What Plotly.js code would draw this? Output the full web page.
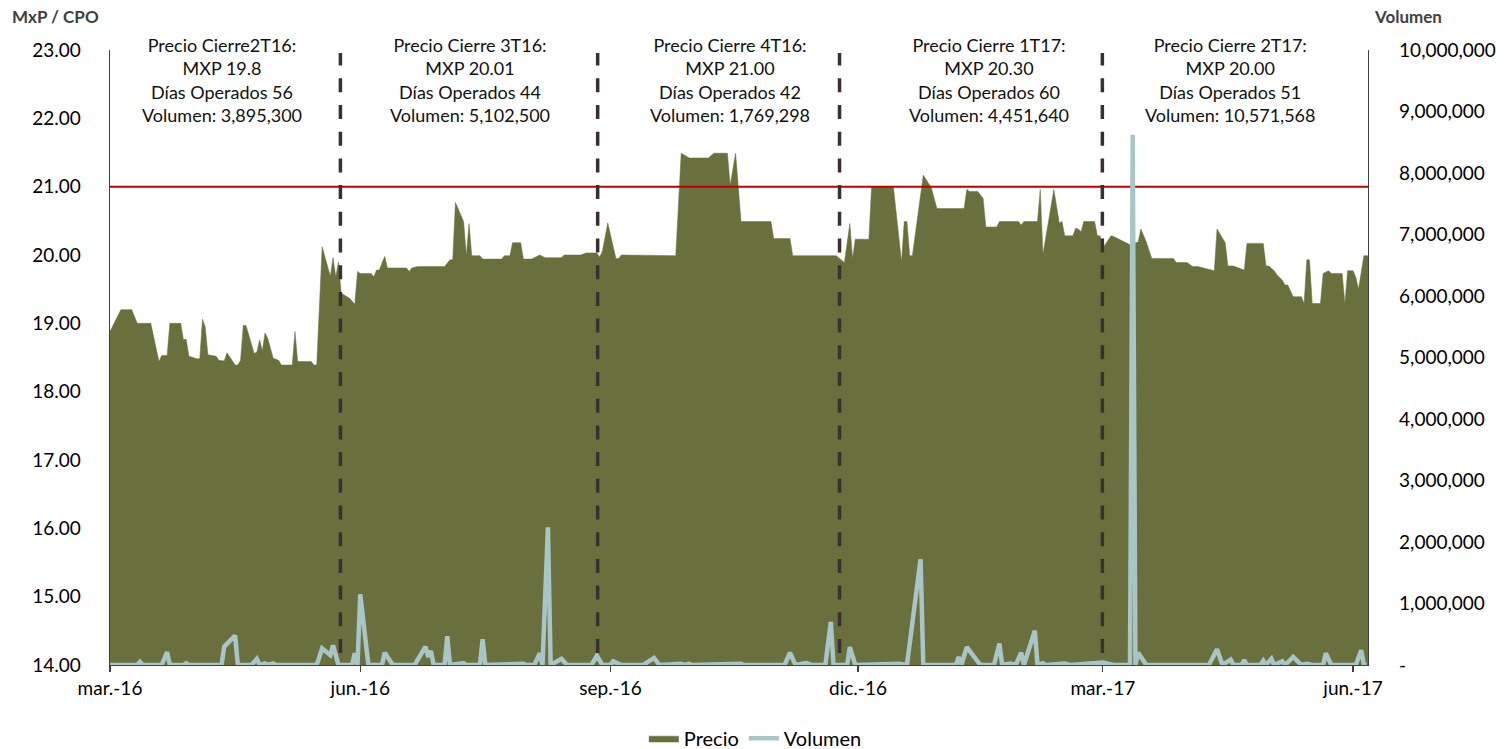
<!DOCTYPE html>
<html>
<head>
<meta charset="utf-8">
<script src="https://cdn.plot.ly/plotly-3.0.1.min.js"></script>
<style>
html,body{margin:0;padding:0;background:#fff;}
#chart{width:1510px;height:749px;}
</style>
</head>
<body>
<div id="chart"></div>
<script>
// ---------- DATA ----------
const precioFechas = [
'2016-03-01','2016-03-05','2016-03-09','2016-03-11','2016-03-16','2016-03-19','2016-03-20','2016-03-22','2016-03-23','2016-03-27',
'2016-03-28','2016-03-29','2016-03-30','2016-04-02','2016-04-03','2016-04-04','2016-04-05','2016-04-06','2016-04-09','2016-04-10',
'2016-04-12','2016-04-13','2016-04-14','2016-04-16','2016-04-17','2016-04-18','2016-04-19','2016-04-20','2016-04-23','2016-04-24',
'2016-04-25','2016-04-26','2016-04-27','2016-04-28','2016-04-30','2016-05-02','2016-05-03','2016-05-07','2016-05-08','2016-05-09',
'2016-05-14','2016-05-15','2016-05-16','2016-05-18','2016-05-21','2016-05-22','2016-05-23','2016-05-24','2016-05-25','2016-05-28',
'2016-05-30','2016-05-31','2016-06-01','2016-06-05','2016-06-06','2016-06-07','2016-06-08','2016-06-10','2016-06-11','2016-06-18',
'2016-06-19','2016-06-20','2016-06-22','2016-07-02','2016-07-04','2016-07-05','2016-07-06','2016-07-09','2016-07-10','2016-07-11',
'2016-07-12','2016-07-15','2016-07-16','2016-07-23','2016-07-24','2016-07-26','2016-07-27','2016-07-30','2016-07-31','2016-08-03',
'2016-08-06','2016-08-08','2016-08-14','2016-08-15','2016-08-21','2016-08-23','2016-08-27','2016-08-28','2016-08-29','2016-08-31',
'2016-09-03','2016-09-04','2016-09-05','2016-09-16','2016-09-25','2016-09-27','2016-09-30','2016-10-07','2016-10-09','2016-10-14',
'2016-10-15','2016-10-17','2016-10-19','2016-10-30','2016-10-31','2016-11-06','2016-11-07','2016-11-23','2016-11-26','2016-11-28',
'2016-11-29','2016-11-30','2016-12-05','2016-12-06','2016-12-14','2016-12-17','2016-12-18','2016-12-19','2016-12-20','2016-12-21',
'2016-12-25','2016-12-28','2016-12-30','2017-01-09','2017-01-10','2017-01-11','2017-01-14','2017-01-16','2017-01-17','2017-01-21',
'2017-01-22','2017-01-29','2017-01-30','2017-01-31','2017-02-05','2017-02-06','2017-02-07','2017-02-11','2017-02-13','2017-02-14',
'2017-02-15','2017-02-18','2017-02-19','2017-02-20','2017-02-21','2017-02-22','2017-02-26','2017-02-27','2017-02-28','2017-03-01',
'2017-03-04','2017-03-05','2017-03-11','2017-03-14','2017-03-15','2017-03-17','2017-03-19','2017-03-27','2017-03-28','2017-04-01',
'2017-04-03','2017-04-05','2017-04-11','2017-04-12','2017-04-15','2017-04-16','2017-04-18','2017-04-22','2017-04-23','2017-04-29',
'2017-04-30','2017-05-01','2017-05-03','2017-05-04','2017-05-06','2017-05-07','2017-05-08','2017-05-10','2017-05-13','2017-05-14',
'2017-05-15','2017-05-16','2017-05-17','2017-05-20','2017-05-21','2017-05-23','2017-05-24','2017-05-28','2017-05-29','2017-05-30',
'2017-06-01','2017-06-02','2017-06-03','2017-06-05','2017-06-07'
];
const precioValores = [
18.88,19.20,19.20,19.00,19.00,18.44,18.53,18.53,19.00,19.00,
18.76,18.77,18.52,18.48,18.48,19.06,18.95,18.54,18.52,18.46,
18.45,18.57,18.51,18.39,18.39,18.46,18.97,18.97,18.56,18.58,
18.76,18.60,18.86,18.78,18.49,18.46,18.39,18.39,18.88,18.44,
18.44,18.39,18.39,20.12,19.69,19.96,19.68,19.90,19.44,19.37,
19.28,19.76,19.73,19.73,19.68,19.78,19.78,19.98,19.81,19.81,
19.76,19.81,19.83,19.83,19.93,19.93,20.77,20.49,19.99,20.46,
19.99,19.99,19.94,19.94,19.99,19.99,20.18,20.18,19.94,19.94,
20.00,19.96,19.96,20.00,20.00,20.03,20.03,19.97,20.05,20.47,
19.95,19.95,20.00,19.99,19.99,21.49,21.42,21.42,21.49,21.49,
21.02,21.49,20.49,20.49,20.24,20.24,19.99,19.99,19.89,20.46,
19.95,20.23,20.23,21.00,21.00,19.90,20.49,20.49,19.99,19.99,
21.17,20.98,20.68,20.68,20.96,20.93,20.93,20.83,20.41,20.41,
20.49,20.49,20.44,20.49,20.49,20.96,20.01,20.96,20.47,20.49,
20.28,20.28,20.39,20.38,20.34,20.49,20.49,20.28,20.28,20.10,
20.28,20.27,20.15,20.19,20.38,20.19,19.95,19.95,19.89,19.89,
19.83,19.83,19.77,20.38,20.18,19.84,19.84,19.78,20.17,20.17,
19.84,19.84,19.77,19.71,19.63,19.56,19.56,19.39,19.39,19.29,
19.93,19.93,19.29,19.29,19.73,19.77,19.73,19.73,19.29,19.77,
19.77,19.68,19.50,19.99,19.99
];

const volumenFechas = [
'2016-03-01','2016-03-11','2016-03-12','2016-03-13','2016-03-20','2016-03-22','2016-03-23','2016-03-28','2016-03-29','2016-03-30',
'2016-04-11','2016-04-12','2016-04-16','2016-04-17','2016-04-22','2016-04-24','2016-04-25','2016-04-27','2016-04-28','2016-04-30',
'2016-05-01','2016-05-16','2016-05-18','2016-05-21','2016-05-22','2016-05-24','2016-05-29','2016-05-30','2016-05-31','2016-06-01',
'2016-06-04','2016-06-09','2016-06-10','2016-06-13','2016-06-21','2016-06-25','2016-06-26','2016-06-27','2016-06-28','2016-07-02',
'2016-07-03','2016-07-04','2016-07-09','2016-07-10','2016-07-15','2016-07-16','2016-07-17','2016-07-31','2016-08-01','2016-08-04',
'2016-08-06','2016-08-07','2016-08-09','2016-08-10','2016-08-14','2016-08-16','2016-08-25','2016-08-27','2016-08-29','2016-09-01',
'2016-09-02','2016-09-05','2016-09-13','2016-09-17','2016-09-19','2016-09-27','2016-09-28','2016-09-30','2016-10-01','2016-10-19',
'2016-10-20','2016-11-04','2016-11-06','2016-11-08','2016-11-12','2016-11-14','2016-11-19','2016-11-21','2016-11-22','2016-11-27',
'2016-11-28','2016-11-30','2016-12-16','2016-12-19','2016-12-24','2016-12-25','2017-01-06','2017-01-07','2017-01-08','2017-01-10',
'2017-01-15','2017-01-20','2017-01-22','2017-01-23','2017-01-26','2017-01-28','2017-01-30','2017-01-31','2017-02-04','2017-02-05',
'2017-02-07','2017-02-08','2017-02-15','2017-02-17','2017-03-01','2017-03-05','2017-03-11','2017-03-12','2017-03-13','2017-03-14',
'2017-03-17','2017-04-09','2017-04-12','2017-04-14','2017-04-17','2017-04-18','2017-04-21','2017-04-22','2017-04-23','2017-04-28',
'2017-04-29','2017-04-30','2017-05-02','2017-05-03','2017-05-06','2017-05-07','2017-05-10','2017-05-13','2017-05-15','2017-05-17',
'2017-05-21','2017-05-22','2017-05-24','2017-06-02','2017-06-04','2017-06-05','2017-06-06'
];
const volumenValores = [
0,0,50000,0,0,210000,0,0,30000,0,
0,300000,480000,0,0,100000,0,25000,0,25000,
0,0,270000,160000,320000,0,0,190000,0,1150000,
0,0,200000,0,0,300000,130000,230000,0,0,
470000,0,30000,0,0,420000,0,20000,0,0,
190000,0,2240000,0,100000,0,0,150000,0,0,
60000,0,0,115000,0,20000,0,20000,0,20000,
0,0,200000,0,30000,0,0,700000,0,0,
290000,0,20000,0,1720000,0,0,130000,0,290000,
0,0,350000,0,25000,0,200000,0,560000,0,
30000,0,25000,0,40000,0,0,8620000,0,200000,
0,0,255000,0,90000,0,0,80000,0,0,
70000,0,100000,0,60000,0,130000,0,20000,0,
0,190000,0,0,240000,0,0
];

const precioReferencia = 21;
const cortesTrimestre = ['2016-05-24 17:00','2016-08-27 07:00','2016-11-24 05:00','2017-02-28 20:00'];

const notasTrimestre = [
  'Precio Cierre2T16:<br>MXP 19.8<br>Días Operados 56<br>Volumen: 3,895,300',
  'Precio Cierre 3T16:<br>MXP 20.01<br>Días Operados 44<br>Volumen: 5,102,500',
  'Precio Cierre 4T16:<br>MXP 21.00<br>Días Operados 42<br>Volumen: 1,769,298',
  'Precio Cierre 1T17:<br>MXP 20.30<br>Días Operados 60<br>Volumen: 4,451,640',
  'Precio Cierre 2T17:<br>MXP 20.00<br>Días Operados 51<br>Volumen: 10,571,568'
];
const notasPosX = [0.089, 0.286, 0.493, 0.699, 0.890];

const xTickVals = ['2016-03-01','2016-06-01','2016-09-01','2016-12-01','2017-03-01','2017-06-01'];
const xTickText = ['mar.-16','jun.-16','sep.-16','dic.-16','mar.-17','jun.-17'];
const y1TickVals = [14,15,16,17,18,19,20,21,22,23];
const y1TickText = ['14.00','15.00','16.00','17.00','18.00','19.00','20.00','21.00','22.00','23.00'];
const y2TickVals = [0,1000000,2000000,3000000,4000000,5000000,6000000,7000000,8000000,9000000,10000000];
const y2TickText = ['-','1,000,000','2,000,000','3,000,000','4,000,000','5,000,000','6,000,000','7,000,000','8,000,000','9,000,000','10,000,000'];

const xRange = ['2016-03-01', '2017-06-06 12:00'];

// ---------- CHART ----------
const FONT = 'Lato, "Open Sans", sans-serif';
const OLIVE = '#69703E';
const VOLCOL = '#AAC5C5';

const traces = [
  {
    type: 'scatter', mode: 'lines', name: 'Precio',
    x: precioFechas, y: precioValores,
    fill: 'tozeroy', fillcolor: OLIVE,
    line: {color: OLIVE, width: 0.5},
    xaxis: 'x', yaxis: 'y', hoverinfo: 'skip'
  },
  {
    type: 'scatter', mode: 'lines', name: 'ref',
    x: xRange, y: [precioReferencia, precioReferencia],
    line: {color: '#C00000', width: 2},
    showlegend: false, xaxis: 'x', yaxis: 'y', hoverinfo: 'skip'
  },
  {
    type: 'scatter', mode: 'lines', name: 'Volumen',
    x: volumenFechas, y: volumenValores,
    line: {color: VOLCOL, width: 4.5},
    xaxis: 'x', yaxis: 'y2', hoverinfo: 'skip'
  }
];

const shapes = cortesTrimestre.map(d => ({
  type: 'line', xref: 'x', yref: 'paper',
  x0: d, x1: d, y0: 0.0195, y1: 0.995,
  line: {color: '#3A3030', width: 3.5, dash: '14px,12.7px'},
  layer: 'above'
}));

const annotations = notasTrimestre.map((t, i) => ({
  text: t, xref: 'paper', yref: 'paper',
  x: notasPosX[i], y: 0.951, xanchor: 'center', yanchor: 'middle',
  showarrow: false, align: 'center',
  font: {family: FONT, size: 18, color: '#111111'}
}));
annotations.push({
  text: '<b>MxP / CPO</b>', xref: 'paper', yref: 'paper',
  x: -0.0795, y: 1.0537, xanchor: 'left', yanchor: 'middle', showarrow: false,
  font: {family: FONT, size: 17, color: '#404040'}
});
annotations.push({
  text: '<b>Volumen</b>', xref: 'paper', yref: 'paper',
  x: 1.0032, y: 1.0537, xanchor: 'left', yanchor: 'middle', showarrow: false,
  font: {family: FONT, size: 17, color: '#404040'}
});

const layout = {
  width: 1510, height: 749,
  margin: {l: 110, r: 142, t: 50, b: 84, autoexpand: false},
  paper_bgcolor: '#ffffff', plot_bgcolor: '#ffffff',
  font: {family: FONT, size: 19, color: '#000000'},
  showlegend: true,
  legend: {
    orientation: 'h', x: 0.513, xanchor: 'center', y: -0.119, yanchor: 'middle',
    font: {family: FONT, size: 20, color: '#000000'},
    traceorder: 'normal', itemwidth: 30
  },
  xaxis: {
    type: 'date', range: xRange,
    tickvals: xTickVals, ticktext: xTickText,
    ticks: 'outside', ticklen: 6, tickcolor: '#404040', tickwidth: 1.3,
    showline: true, linecolor: '#404040', linewidth: 1.3,
    showgrid: false, zeroline: false,
    ticklabelstandoff: 0,
    tickfont: {family: FONT, size: 19, color: '#000000'}
  },
  yaxis: {
    range: [14, 23], tickvals: y1TickVals, ticktext: y1TickText,
    showline: true, linecolor: '#404040', linewidth: 1.3,
    ticks: '', showgrid: false, zeroline: false,
    ticklabelstandoff: 24,
    tickfont: {family: FONT, size: 19, color: '#000000'}
  },
  yaxis2: {
    overlaying: 'y', side: 'right',
    range: [0, 10000000], tickvals: y2TickVals, ticktext: y2TickText,
    showline: true, linecolor: '#404040', linewidth: 1.3,
    ticks: '', showgrid: false, zeroline: false,
    ticklabelstandoff: 26,
    tickfont: {family: FONT, size: 19, color: '#000000'}
  },
  shapes: shapes,
  annotations: annotations
};

Plotly.newPlot('chart', traces, layout, {displayModeBar: false, staticPlot: true});
</script>
</body>
</html>
